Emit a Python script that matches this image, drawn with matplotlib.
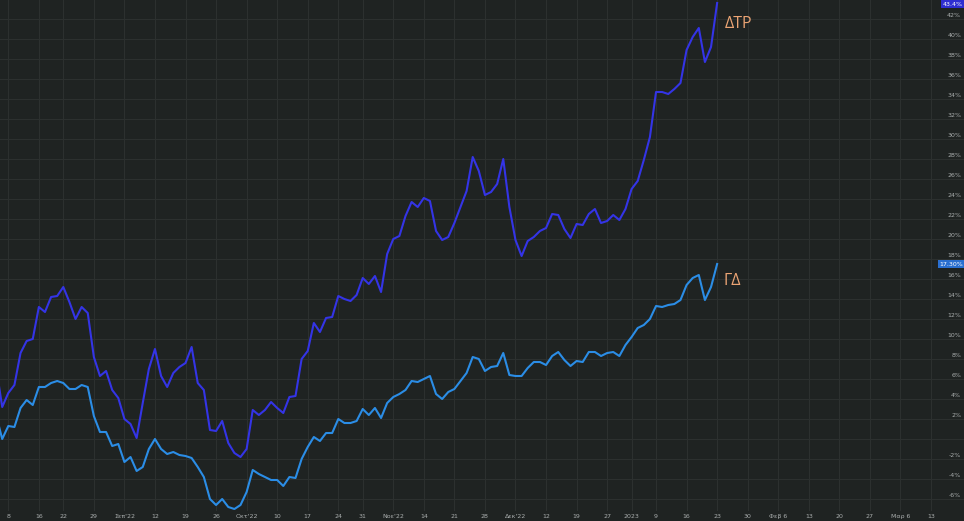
import numpy as np
import pandas as pd
import matplotlib
matplotlib.use('Agg')
import matplotlib.pyplot as plt
import matplotlib.transforms as mtrans

# athens exchange holidays in the range (not trading days)
holidays = ['2022-08-15', '2022-10-28', '2022-12-26', '2023-01-06']
first_day = '2022-08-04'
last_day = '2023-03-17'

# % change, one value per trading day from 2022-08-04 to 2023-01-23
dtr = [7.0, 3.0, 4.4, 5.2, 8.4, 9.6, 9.8, 13.0, 12.5, 14.0, 14.1, 15.0, 13.5, 11.8, 13.0, 12.4, 8.0, 6.1, 6.6,
       4.7, 3.9, 1.8, 1.3, -0.1, 3.4, 6.8, 8.8, 6.1, 5.0, 6.4, 7.0, 7.4, 9.0, 5.4, 4.7, 0.7, 0.6, 1.6, -0.6, -1.6, -2.0,
       -1.2, 2.7, 2.2, 2.7, 3.5, 2.9, 2.4, 4.0, 4.1, 7.8, 8.6, 11.4, 10.5, 11.9, 12.0, 14.1, 13.8, 13.6, 14.2, 15.9,
       15.3, 16.1, 14.5, 18.3, 19.8, 20.1, 22.1, 23.5, 23.0, 23.9, 23.6, 20.6, 19.7, 20.0, 21.4, 23.0, 24.6, 28.0, 26.6, 24.2, 24.5, 25.3,
       27.8, 23.0, 19.7, 18.1, 19.6, 20.0, 20.6, 20.9, 22.3, 22.2, 20.8, 19.9, 21.3, 21.2, 22.3, 22.8, 21.4, 21.6, 22.2, 21.7, 22.8,
       24.8, 25.6, 27.7, 30.0, 34.5, 34.5, 34.3, 34.8, 35.4, 38.7, 40.0, 40.9, 37.5, 39.0, 43.4]
gd = [2.2, -0.2, 1.1, 1.0, 2.9, 3.7, 3.2, 5.0, 5.0, 5.4, 5.6, 5.4, 4.8, 4.8, 5.2, 5.0, 2.1, 0.5, 0.5,
      -0.9, -0.7, -2.5, -2.0, -3.4, -3.0, -1.2, -0.2, -1.2, -1.7, -1.5, -1.8, -1.9, -2.1, -3.0, -4.0, -6.2, -6.8, -6.2, -7.0, -7.2, -6.8,
      -5.5, -3.3, -3.7, -4.0, -4.3, -4.3, -4.9, -4.0, -4.1, -2.2, -1.0, 0.0, -0.4, 0.4, 0.4, 1.8, 1.4, 1.4, 1.6, 2.8,
      2.2, 2.9, 1.9, 3.4, 4.0, 4.3, 4.7, 5.6, 5.5, 5.8, 6.1, 4.3, 3.8, 4.5, 4.8, 5.6, 6.4, 8.0, 7.8, 6.6, 7.0, 7.1,
      8.4, 6.2, 6.1, 6.1, 6.9, 7.5, 7.5, 7.2, 8.1, 8.5, 7.7, 7.1, 7.6, 7.5, 8.5, 8.5, 8.1, 8.4, 8.5, 8.1, 9.2,
      10.0, 10.9, 11.2, 11.8, 13.1, 13.0, 13.2, 13.3, 13.7, 15.2, 15.9, 16.2, 13.7, 15.0, 17.3]

tick_dates = ['2022-08-08', '2022-08-16', '2022-08-22', '2022-08-29', '2022-09-05', '2022-09-12', '2022-09-19',
              '2022-09-26', '2022-10-03', '2022-10-10', '2022-10-17', '2022-10-24', '2022-10-31', '2022-11-07',
              '2022-11-14', '2022-11-21', '2022-11-28', '2022-12-05', '2022-12-12', '2022-12-19', '2022-12-27',
              '2023-01-02', '2023-01-09', '2023-01-16', '2023-01-23', '2023-01-30', '2023-02-06', '2023-02-13',
              '2023-02-20', '2023-02-27', '2023-03-06', '2023-03-13']
tick_labels = ['8', '16', '22', '29', "Σεπ'22", '12', '19', '26', "Οκτ'22", '10', '17', '24', '31', "Νοε'22",
               '14', '21', '28', "Δεκ'22", '12', '19', '27', '2023', '9', '16', '23', '30', 'Φεβ 6', '13',
               '20', '27', 'Μαρ 6', '13']
y_levels = [-6, -4, -2, 0, 2, 4, 6, 8, 10, 12, 14, 16, 18, 20, 22, 24, 26, 28, 30, 32, 34, 36, 38, 40, 42]

bg = '#1f2322'
grid_c = '#2c302f'
txt_c = '#a9adad'
c_dtr = '#3434e6'
c_gd = '#2b8de6'
c_lab = '#eba474'

# trading calendar -> bar index (holidays only matter for the past)
days = pd.bdate_range(first_day, last_day)
days = days[~days.isin(pd.to_datetime(holidays))]
pos = {d.strftime('%Y-%m-%d'): i for i, d in enumerate(days)}
x = np.arange(len(dtr))

fig = plt.figure(figsize=(9.64, 5.21), dpi=100, facecolor=bg)
ax = fig.add_axes([0, 10/521, 1, 511/521], facecolor=bg)
for s in ax.spines.values():
    s.set_visible(False)

ax.set_xlim(0.64, 158.4)
ax.set_ylim(-7.4, 43.7)

# tradingview draws the grid a couple of px under the price labels
for v in y_levels:
    ax.axhline(v - 0.15, color=grid_c, lw=0.8, zorder=0)
for d in tick_dates:
    ax.axvline(pos[d], color=grid_c, lw=0.8, zorder=0)

ax.plot(x, dtr, color=c_dtr, lw=1.5, zorder=3)
ax.plot(x, gd, color=c_gd, lw=1.5, zorder=3)

ax.set_xticks([pos[d] for d in tick_dates])
ax.set_xticklabels(tick_labels)
ax.tick_params(axis='x', length=0, pad=2, labelsize=4.5, colors=txt_c)
ax.set_yticks([])

tr = mtrans.blended_transform_factory(ax.transAxes, ax.transData)
for v in y_levels:
    if v == 0:
        continue
    ax.text(0.997, v + 0.15, '%d%%' % v, transform=tr, ha='right', va='center', fontsize=4.5, color=txt_c)

# last value badges
ax.text(0.999, dtr[-1] - 0.1, '%.1f%%' % dtr[-1], transform=tr, ha='right', va='center', fontsize=4.5,
        color='white', bbox=dict(boxstyle='square,pad=0.25', fc='#2e2ed0', ec='none'), zorder=5)
ax.text(0.999, gd[-1], '%.2f%%' % gd[-1], transform=tr, ha='right', va='center', fontsize=4.5,
        color='white', bbox=dict(boxstyle='square,pad=0.25', fc='#2a6fd0', ec='none'), zorder=5)

ax.text(x[-1] + 1.2, 41.3, 'ΔΤΡ', color=c_lab, fontsize=11.5, ha='left', va='center', family=['Open Sans', 'DejaVu Sans'])
ax.text(x[-1] + 1.0, 15.6, 'ΓΔ', color=c_lab, fontsize=11.5, ha='left', va='center', family=['Open Sans', 'DejaVu Sans'])

fig.savefig('out.png', dpi=100, facecolor=bg)
